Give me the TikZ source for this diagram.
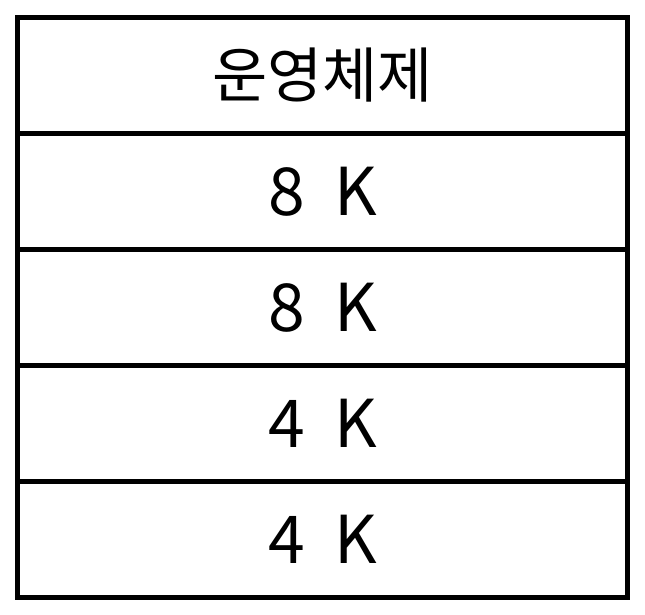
\documentclass[tikz,border=0pt]{standalone}
\usepackage{fontspec}
\setmainfont{Noto Sans CJK KR}
\usetikzlibrary{positioning}

\begin{document}
\begin{tikzpicture}[x=1pt, y=-1pt, node distance=0pt]
\tikzset{
    %Define style for memory blocks
    memblock/.style={
           rectangle,
           draw=black, line width=5pt,
           outer sep=0pt, inner sep=0pt,
           minimum width=610pt,
           minimum height=116pt,
           font=\fontsize{66}{70}\selectfont},
    % Define style for the top label
    oslabel/.style={
           font=\fontsize{60}{70}\selectfont}
}
\useasboundingbox (0,0) rectangle (645,615);
 %blocks
 \node[memblock, oslabel] (os) at (322.5,75.5) {운영체제};
 \node[memblock, below=of os] (blockA) {8~~K};
 \node[memblock, below=of blockA] (blockB) {8~~K};
 \node[memblock, below=of blockB] (blockC) {4~~K};
 \node[memblock, below=of blockC] (blockD) {4~~K};
\end{tikzpicture}
\end{document}
